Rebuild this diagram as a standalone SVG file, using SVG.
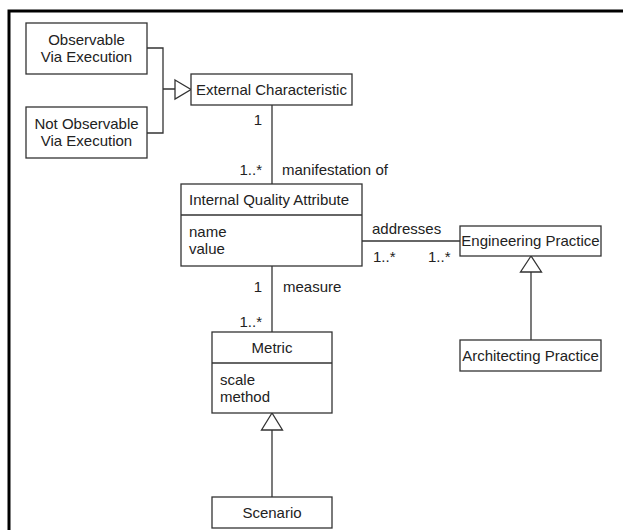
<svg xmlns="http://www.w3.org/2000/svg" width="623" height="530" viewBox="0 0 623 530">
<style>
.box{fill:#fff;stroke:#333;stroke-width:1.3}
.ln{fill:none;stroke:#333;stroke-width:1.3}
.tri{fill:#fff;stroke:#333;stroke-width:1.3}
text{font-family:"Liberation Sans",Arial,sans-serif;font-size:15px;fill:#222}
.c{text-anchor:middle}
.r{text-anchor:end}
</style>
<rect x="0" y="0" width="623" height="530" fill="#fff"/>
<path d="M9,530 V11 H623" fill="none" stroke="#000" stroke-width="3"/>
<g id="connectors">
<path class="ln" d="M147,48 H163 V133 H147 M163,89 H175"/>
<polygon class="tri" points="175,80 191,89.5 175,99"/>
<path class="ln" d="M272,105 V184"/>
<path class="ln" d="M272,266 V332"/>
<path class="ln" d="M362,241 H460"/>
<path class="ln" d="M531,272 V340"/>
<polygon class="tri" points="531,256 520.5,272 541.5,272"/>
<path class="ln" d="M272,430 V497"/>
<polygon class="tri" points="272,413 261.5,430 282.5,430"/>
<text class="r" x="262" y="125">1</text>
<text class="r" x="262" y="175">1..*</text>
<text x="282" y="175">manifestation of</text>
<text class="r" x="262" y="292">1</text>
<text x="283" y="292">measure</text>
<text class="r" x="262" y="327">1..*</text>
<text x="372" y="234">addresses</text>
<text x="373" y="262">1..*</text>
<text x="428" y="262">1..*</text>
</g>
<g id="observable">
<rect class="box" x="26" y="23" width="121" height="51"/>
<text class="c" x="86.5" y="45">Observable</text>
<text class="c" x="86.5" y="62">Via Execution</text>
</g>
<g id="not-observable">
<rect class="box" x="26" y="107" width="121" height="51"/>
<text class="c" x="86.5" y="129">Not Observable</text>
<text class="c" x="86.5" y="146">Via Execution</text>
</g>
<g id="external-characteristic">
<rect class="box" x="191" y="74" width="161" height="31"/>
<text class="c" x="271.5" y="95">External Characteristic</text>
</g>
<g id="internal-quality-attribute">
<rect class="box" x="181" y="184" width="181" height="82"/>
<path class="ln" d="M181,215 H362"/>
<text x="189" y="205">Internal Quality Attribute</text>
<text x="189" y="237">name</text>
<text x="189" y="254">value</text>
</g>
<g id="engineering-practice">
<rect class="box" x="460" y="226" width="141" height="30"/>
<text class="c" x="530.5" y="246">Engineering Practice</text>
</g>
<g id="architecting-practice">
<rect class="box" x="460" y="340" width="141" height="31"/>
<text class="c" x="530.5" y="361">Architecting Practice</text>
</g>
<g id="metric">
<rect class="box" x="212" y="332" width="120" height="81"/>
<path class="ln" d="M212,363 H332"/>
<text class="c" x="272" y="353">Metric</text>
<text x="220" y="385">scale</text>
<text x="220" y="402">method</text>
</g>
<g id="scenario">
<rect class="box" x="212" y="497" width="120" height="31"/>
<text class="c" x="272" y="518">Scenario</text>
</g>
</svg>
